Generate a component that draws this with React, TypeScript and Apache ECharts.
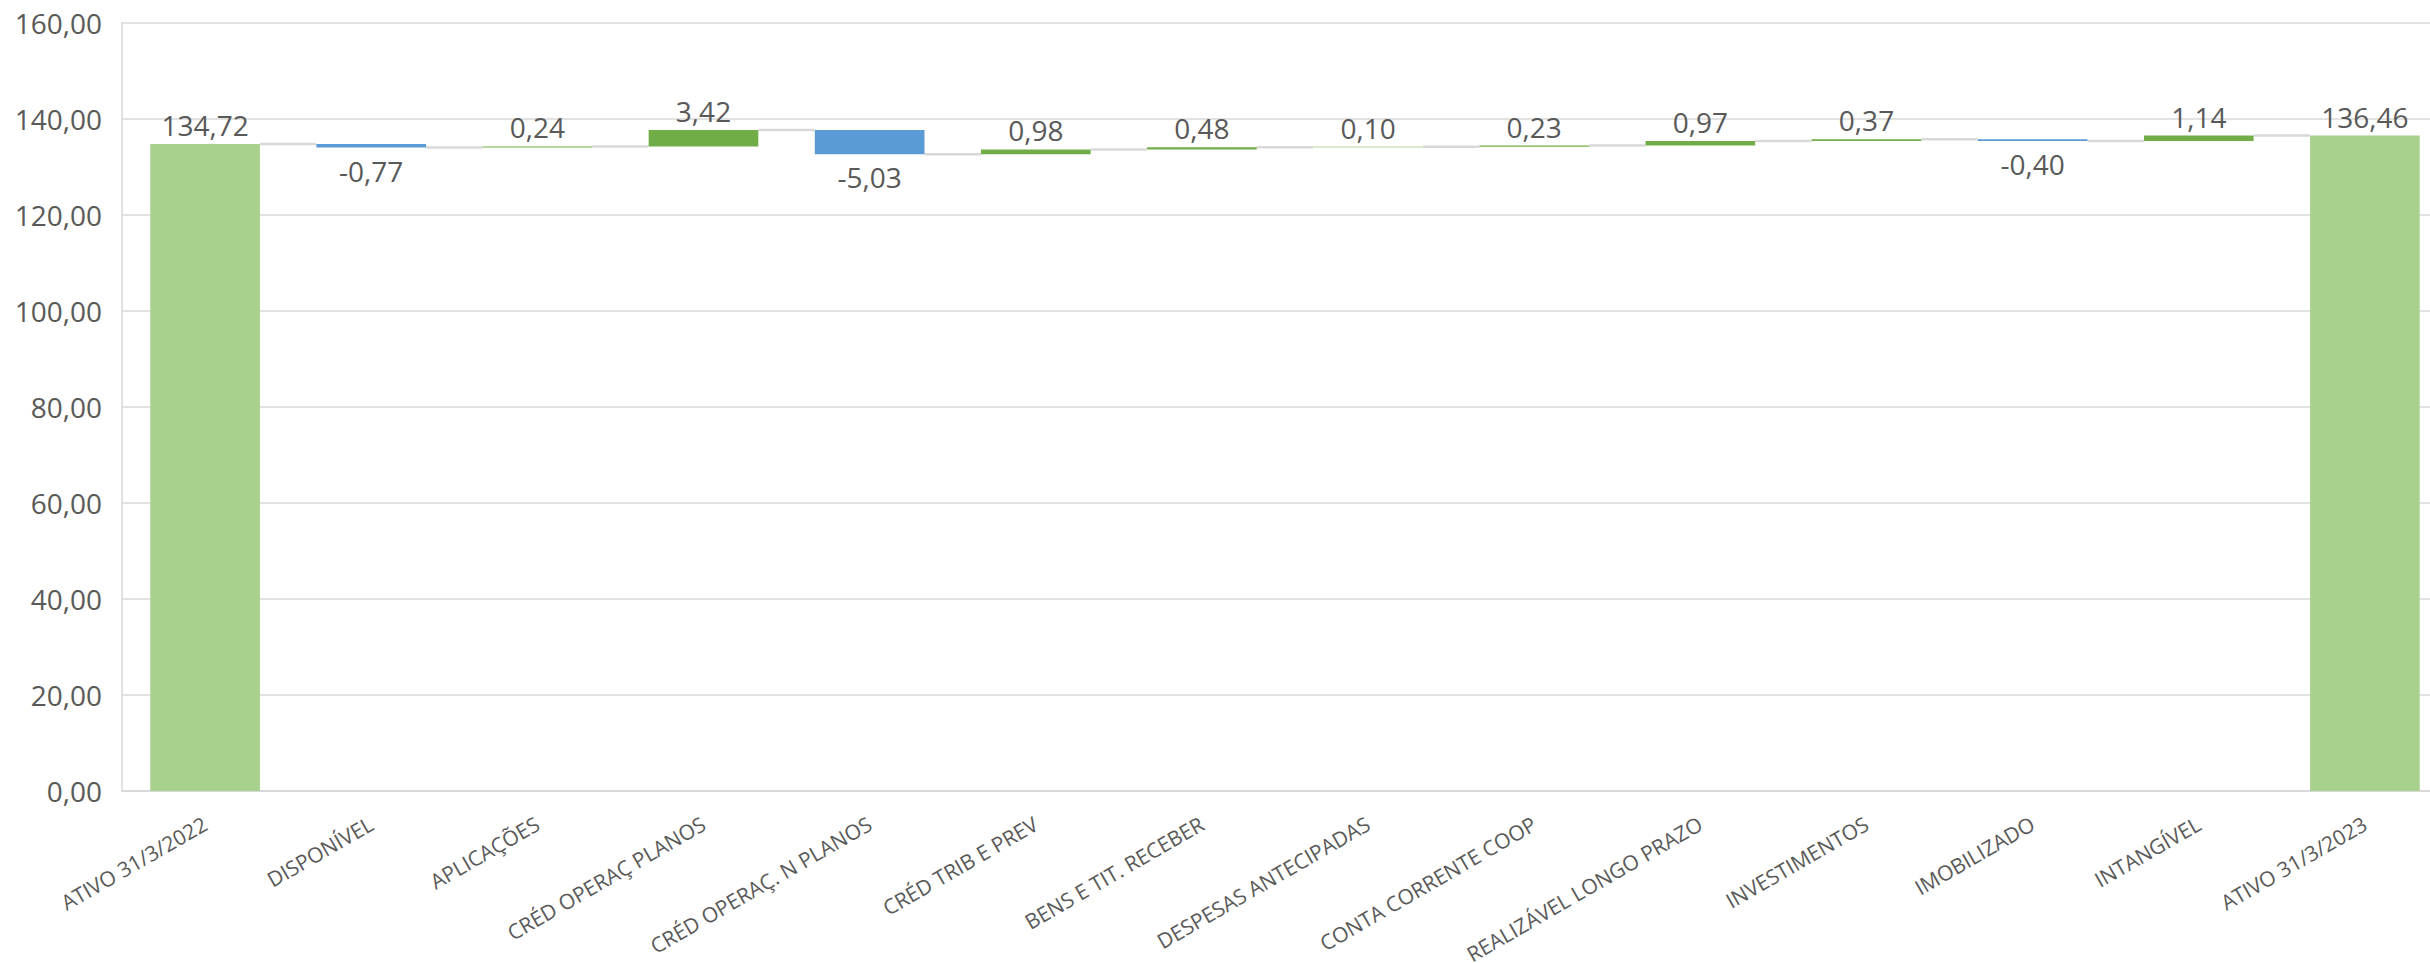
import React, { useEffect, useRef } from "react";
import * as echarts from "echarts";

const categories = [
  "ATIVO 31/3/2022",
  "DISPONÍVEL",
  "APLICAÇÕES",
  "CRÉD OPERAÇ PLANOS",
  "CRÉD OPERAÇ. N PLANOS",
  "CRÉD TRIB E PREV",
  "BENS E TIT. RECEBER",
  "DESPESAS ANTECIPADAS",
  "CONTA CORRENTE COOP",
  "REALIZÁVEL LONGO PRAZO",
  "INVESTIMENTOS",
  "IMOBILIZADO",
  "INTANGÍVEL",
  "ATIVO 31/3/2023",
];

const startTotal = 134.72;
const endTotal = 136.46;
const deltas = [-0.77, 0.24, 3.42, -5.03, 0.98, 0.48, 0.1, 0.23, 0.97, 0.37, -0.4, 1.14];

const yTicks = { min: 0, max: 160, interval: 20 };

const fmt = (v: number) => v.toFixed(2).replace(".", ",");

const TEXT = "#595959";
const GRID = "#D9D9D9";
const C_TOTAL = "#A9D18E";
const C_UP = "#70AD47";
const C_DOWN = "#5B9BD5";
const FONT = "Open Sans";

export default function App() {
  const ref = useRef<HTMLDivElement>(null);

  useEffect(() => {
    document.body.style.margin = "0";
    if (!ref.current) return;
    const chart = echarts.init(ref.current, undefined, { renderer: "svg" });

    const n = categories.length;
    const base: (number | string)[] = [];
    const up: (number | string)[] = [];
    const down: (number | string)[] = [];
    const total: (number | string)[] = [];
    const levels: number[] = []; // running total after each category
    let run = startTotal;
    base.push("-");
    up.push("-");
    down.push("-");
    total.push(startTotal);
    levels.push(startTotal);
    deltas.forEach((d) => {
      const after = run + d;
      base.push(Math.min(run, after));
      if (d >= 0) {
        up.push(d);
        down.push("-");
      } else {
        up.push("-");
        down.push(-d);
      }
      total.push("-");
      run = after;
      levels.push(after);
    });
    base.push("-");
    up.push("-");
    down.push("-");
    total.push(endTotal);

    const connectors = levels.map((v, i) => [i, v]);
    const barRatio = 0.66;

    const labelCommon = {
      show: true,
      color: TEXT,
      fontFamily: FONT,
      fontSize: 28,
    };

    chart.setOption({
      animation: false,
      grid: {
        left: 122,
        top: 22.5,
        bottom: 172,
        width: 2326,
        containLabel: false,
        outerBoundsMode: "none",
      },
      xAxis: {
        type: "category",
        data: categories,
        axisLine: { show: true, lineStyle: { color: GRID, width: 2 } },
        axisTick: { show: false },
        splitLine: { show: false },
        axisLabel: {
          interval: 0,
          rotate: 30,
          margin: 31,
          color: TEXT,
          fontFamily: FONT,
          fontSize: 21,
        },
      },
      yAxis: {
        type: "value",
        min: yTicks.min,
        max: yTicks.max,
        interval: yTicks.interval,
        axisLine: { show: true, lineStyle: { color: GRID, width: 1.5 } },
        axisTick: { show: false },
        splitLine: { show: true, lineStyle: { color: GRID, width: 1.5 } },
        axisLabel: {
          margin: 20,
          color: TEXT,
          fontFamily: FONT,
          fontSize: 28,
          formatter: (v: number) => fmt(v),
        },
      },
      series: [
        {
          name: "base",
          type: "bar",
          stack: "w",
          barWidth: barRatio * 100 + "%",
          itemStyle: { color: "transparent" },
          emphasis: { disabled: true },
          data: base,
        },
        {
          name: "total",
          type: "bar",
          stack: "w",
          barWidth: barRatio * 100 + "%",
          itemStyle: { color: C_TOTAL },
          label: { ...labelCommon, position: "top", distance: 5, formatter: (p: any) => fmt(p.value) },
          data: total,
        },
        {
          name: "up",
          type: "bar",
          stack: "w",
          barWidth: barRatio * 100 + "%",
          itemStyle: { color: C_UP },
          label: { ...labelCommon, position: "top", distance: 5, formatter: (p: any) => fmt(p.value) },
          data: up,
        },
        {
          name: "down",
          type: "bar",
          stack: "w",
          barWidth: barRatio * 100 + "%",
          itemStyle: { color: C_DOWN },
          label: { ...labelCommon, position: "bottom", distance: 9, formatter: (p: any) => "-" + fmt(p.value) },
          data: down,
        },
        {
          name: "connectors",
          type: "custom",
          coordinateSystem: "cartesian2d",
          silent: true,
          z: 1,
          data: connectors.slice(0, n - 1),
          renderItem: (params: any, api: any) => {
            const p = api.coord([api.value(0), api.value(1)]);
            const w = api.size([1, 0])[0];
            const half = (w * barRatio) / 2;
            return {
              type: "line",
              shape: { x1: p[0] + half, y1: p[1], x2: p[0] + w - half, y2: p[1] },
              style: { stroke: GRID, lineWidth: 2.5 },
            };
          },
        },
      ],
    });

    return () => chart.dispose();
  }, []);

  return <div ref={ref} style={{ width: 2430, height: 963 }} />;
}
